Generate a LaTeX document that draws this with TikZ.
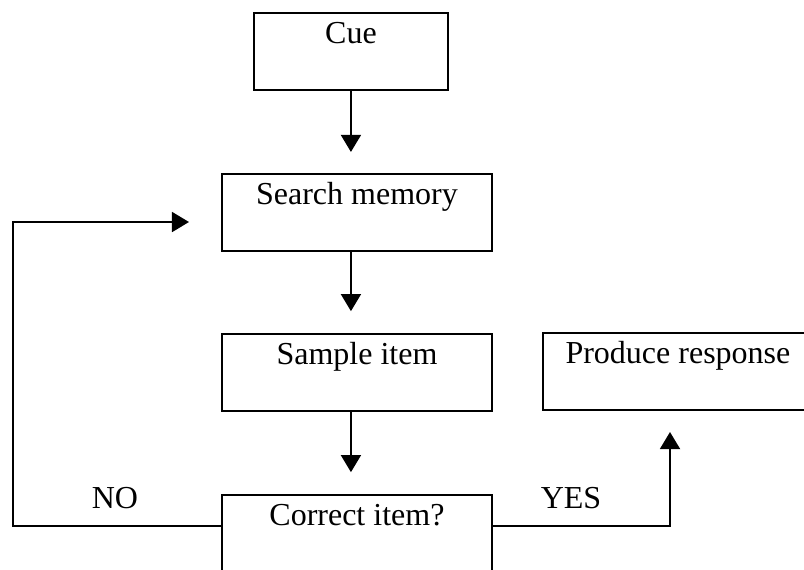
\documentclass[tikz,border=0pt]{standalone}
\usepackage{fontspec}
\setmainfont{Liberation Serif}
\usetikzlibrary{arrows.meta}

\begin{document}
\begin{tikzpicture}[x=0.375pt,y=-0.375pt,
    stage/.style={draw,line width=0.7pt,anchor=north west,minimum width=101.25pt,inner xsep=0pt,inner ysep=0pt,text height=11.6pt,text depth=17.3pt,font=\fontsize{12pt}{14pt}\selectfont},
    answer/.style={anchor=base,font=\fontsize{12pt}{14pt}\selectfont},
    arr/.style={-{Triangle[length=6.4pt,width=7.5pt]},line width=0.7pt}
  ]
    \path[use as bounding box,clip] (0,0) rectangle (804,569);
    \node[stage,minimum width=72.75pt] (cue) at (253,12) {Cue};
    \node[stage] (search) at (221,173) {Search memory};
    \node[stage] (sample) at (221,333) {Sample item};
    \node[stage] (produce) at (542,332) {Produce response};
    \node[stage] (correct) at (221,494) {Correct item?};
    \coordinate (nobend) at (13,526);
    \coordinate (notop) at (13,222);
    \coordinate (yesbend) at (670,526);
    \draw[arr,shorten >=7.9pt] (cue.south) -- (cue.south |- search.north);
    \draw[arr,shorten >=8.2pt] (search.south -| cue.south) -- (cue.south |- sample.north);
    \draw[arr,shorten >=8.2pt] (sample.south -| cue.south) -- (cue.south |- correct.north);
    \draw[arr,shorten >=12pt] (correct.west |- nobend) -- (nobend) -- (notop) -- (notop -| search.west);
    \draw[arr,shorten >=7.9pt] (correct.east |- yesbend) -- (yesbend) -- (yesbend |- produce.south);
    \node[answer] (no) at (115,508) {NO};
    \node[answer] (yes) at (571,508) {YES};
  \end{tikzpicture}
\end{document}
